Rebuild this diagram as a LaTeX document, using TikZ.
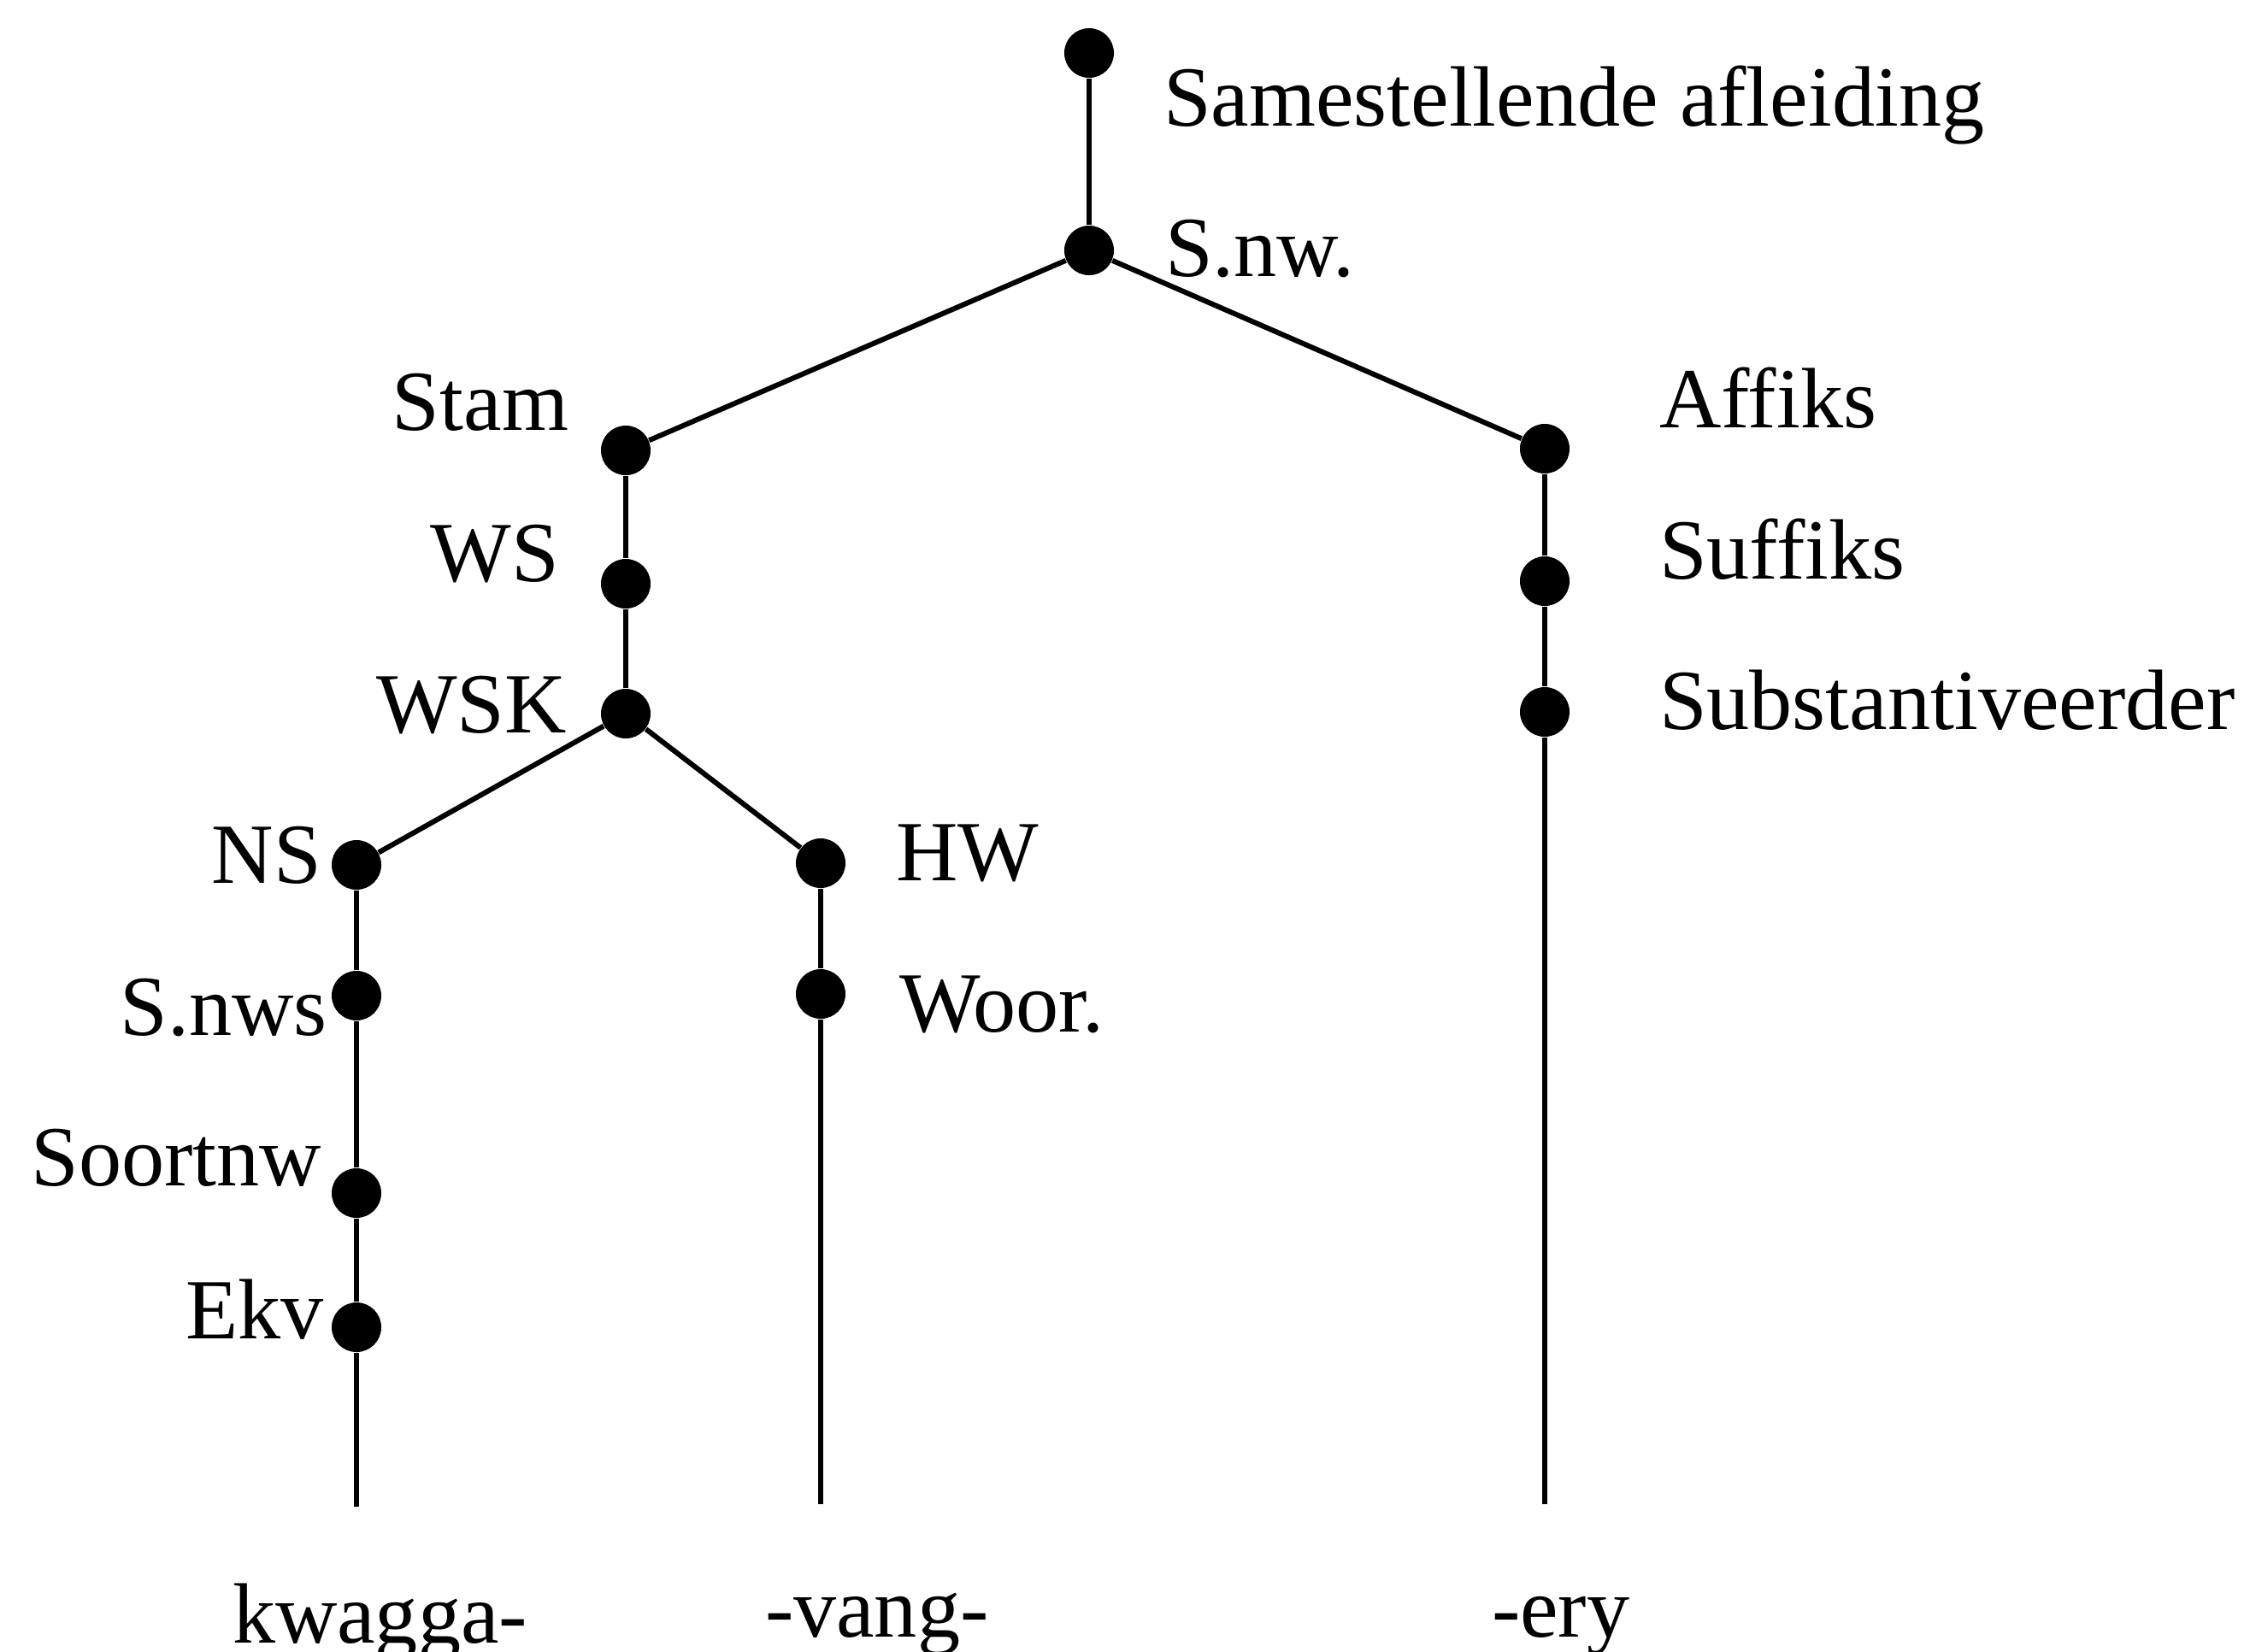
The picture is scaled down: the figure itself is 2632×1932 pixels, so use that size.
\documentclass[tikz,border=0pt]{standalone}
\usepackage{fontspec}
\setmainfont{Liberation Serif}
\begin{document}
\begin{tikzpicture}[x=0.01cm,y=-0.01cm,
  dot/.style={circle,fill=black,draw=none,minimum size=0.58cm,inner sep=0pt},
  edge/.style={line width=0.06cm},
  lab/.style={inner sep=0pt,outer sep=0pt,font=\fontsize{28.5pt}{34pt}\selectfont},
  labl/.style={lab,anchor=base west},
  labr/.style={lab,anchor=base east}]
\useasboundingbox (0,0) rectangle (2632,1932);

% tree nodes
\node[dot] (top)    at (1274,62)   {};
\node[dot] (snw)    at (1274,293)  {};
\node[dot] (stam)   at (732,527)   {};
\node[dot] (ws)     at (732,683)   {};
\node[dot] (wsk)    at (732,835)   {};
\node[dot] (affiks) at (1807,525)  {};
\node[dot] (suf)    at (1807,680)  {};
\node[dot] (subst)  at (1807,833)  {};
\node[dot] (ns)     at (417,1012)  {};
\node[dot] (snws)   at (417,1165)  {};
\node[dot] (soort)  at (417,1396)  {};
\node[dot] (ekv)    at (417,1553)  {};
\node[dot] (hw)     at (960,1010)  {};
\node[dot] (woor)   at (960,1163)  {};

% free ends of the leaf branches
\coordinate (endk) at (417,1763);
\coordinate (endv) at (960,1760);
\coordinate (ende) at (1807,1760);

% branches
\draw[edge] (top) -- (snw);
\draw[edge] (snw) -- (stam);
\draw[edge] (snw) -- (affiks);
\draw[edge] (stam) -- (ws);
\draw[edge] (ws) -- (wsk);
\draw[edge] (wsk) -- (ns);
\draw[edge] (wsk) -- (hw);
\draw[edge] (ns) -- (snws);
\draw[edge] (snws) -- (soort);
\draw[edge] (soort) -- (ekv);
\draw[edge] (ekv) -- (endk);
\draw[edge] (hw) -- (woor);
\draw[edge] (woor) -- (endv);
\draw[edge] (affiks) -- (suf);
\draw[edge] (suf) -- (subst);
\draw[edge] (subst) -- (ende);

% category labels
\node[labl] (tSam)   at (1361,147)  {Samestellende afleiding};
\node[labl] (tSnw)   at (1363,323)  {S.nw.};
\node[labr] (tStam)  at (665,503)   {Stam};
\node[labr] (tWS)    at (654,680)   {WS};
\node[labr] (tWSK)   at (663,857)   {WSK};
\node[labl] (tAff)   at (1941,500)  {Affiks};
\node[labl] (tSuf)   at (1941,677)  {Suffiks};
\node[labl] (tSub)   at (1941,853)  {Substantiveerder};
\node[labr] (tNS)    at (376,1033)  {NS};
\node[labr] (tSnws)  at (383,1211)  {S.nws};
\node[labr] (tSoort) at (376,1387)  {Soortnw};
\node[labr] (tEkv)   at (379,1566)  {Ekv};
\node[labl] (tHW)    at (1048,1030) {HW};
\node[labl] (tWoor)  at (1052,1207) {Woor.};

% word parts
\node[labl] (wK) at (272,1922)  {kwagga-};
\node[labl] (wV) at (895,1915)  {-vang-};
\node[labl] (wE) at (1745,1915) {-ery};
\end{tikzpicture}
\end{document}
